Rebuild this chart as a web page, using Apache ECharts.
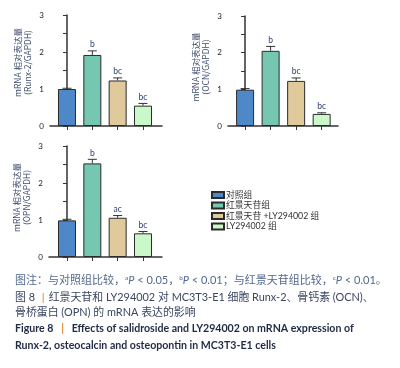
<!DOCTYPE html>
<html>
<head>
<meta charset="utf-8">
<script src="https://cdn.jsdelivr.net/npm/echarts@6/dist/echarts.min.js"></script>
<style>
  html, body { margin: 0; padding: 0; background: #fff; }
  #chart { width: 400px; height: 368px; }
</style>
</head>
<body>
<div id="chart"></div>
<script>
  // groups (legend order)
  var groups = ['对照组', '红景天苷组', '红景天苷 +LY294002 组', 'LY294002 组'];
  var groupColors = ['#4f88c8', '#76c7b2', '#e0c99b', '#cbf8cb'];
  var yTicks = [0, 1, 2, 3];

  // Runx-2
  var runxMean = [1.00, 1.92, 1.23, 0.55];
  var runxErr = [0.02, 0.11, 0.07, 0.06];
  var runxSig = ['', 'b', 'bc', 'bc'];
  // OCN
  var ocnMean = [0.99, 2.05, 1.23, 0.33];
  var ocnErr = [0.03, 0.12, 0.08, 0.03];
  var ocnSig = ['', 'b', 'bc', 'bc'];
  // OPN
  var opnMean = [0.99, 2.53, 1.06, 0.64];
  var opnErr = [0.03, 0.11, 0.06, 0.05];
  var opnSig = ['', 'b', 'ac', 'bc'];

  var panels = [
    { mean: runxMean, err: runxErr, sig: runxSig, name: 'mRNA 相对表达量\n(Runx-2/GAPDH)', shift: 16 },
    { mean: ocnMean, err: ocnErr, sig: ocnSig, name: 'mRNA 相对表达量\n(OCN/GAPDH)', shift: 8 },
    { mean: opnMean, err: opnErr, sig: opnSig, name: 'mRNA 相对表达量\n(OPN/GAPDH)', shift: 8 }
  ];

  var latin = 'Lato, "Noto Sans CJK SC", sans-serif';
  var cjk = '"Noto Sans CJK SC", sans-serif';
  var axisColor = '#333';

  var grids = [
    { left: 50, top: 15, width: 112, height: 111 },
    { left: 228, top: 16, width: 110, height: 110 },
    { left: 49, top: 146, width: 113, height: 111 }
  ];
  var xRange = [
    { min: -0.67, max: 3.75 },
    { min: -0.67, max: 3.64 },
    { min: -0.71, max: 3.75 }
  ];

  var xAxes = [], yAxes = [], series = [];
  panels.forEach(function (p, c) {
    xAxes.push({
      gridIndex: c,
      type: 'value',
      min: xRange[c].min,
      max: xRange[c].max,
      axisLine: { show: true, lineStyle: { color: axisColor, width: 1.5 } },
      axisTick: { show: true, customValues: [0, 1, 2, 3], length: 4, lineStyle: { color: axisColor } },
      axisLabel: { show: false },
      splitLine: { show: false }
    });
    yAxes.push({
      gridIndex: c,
      type: 'value',
      min: 0,
      max: 3,
      interval: 1,
      name: p.name,
      nameLocation: 'middle',
      nameRotate: 90,
      nameGap: 17,
      nameTextStyle: { fontSize: 8.5, color: '#3d4d6e', fontFamily: cjk, lineHeight: 10, padding: [0, 0, 0, p.shift] },
      axisLine: { show: true, lineStyle: { color: axisColor, width: 1.5 } },
      axisTick: { show: true, length: 4, lineStyle: { color: axisColor } },
      minorTick: { show: true, splitNumber: 2, length: 4, lineStyle: { color: axisColor } },
      axisLabel: { fontSize: 8, color: '#222', fontFamily: latin, margin: 6 },
      splitLine: { show: false },
      minorSplitLine: { show: false }
    });
    groups.forEach(function (g, i) {
      series.push({
        type: 'bar',
        name: g,
        xAxisIndex: c,
        yAxisIndex: c,
        stack: 'panel' + c,
        barWidth: 18,
        data: [[i, p.mean[i]]],
        itemStyle: { color: groupColors[i], borderColor: '#2b2b2b', borderWidth: 1 }
      });
    });
    series.push({
      type: 'custom',
      xAxisIndex: c,
      yAxisIndex: c,
      z: 5,
      data: p.mean.map(function (m, i) { return [i, m, p.err[i]]; }),
      renderItem: function (params, api) {
        var i = params.dataIndex;
        var base = api.coord([api.value(0), api.value(1)]);
        var top = api.coord([api.value(0), api.value(1) + api.value(2)]);
        return {
          type: 'group',
          children: [
            { type: 'line', shape: { x1: base[0], y1: base[1], x2: top[0], y2: top[1] }, style: { stroke: '#333', lineWidth: 1 } },
            { type: 'line', shape: { x1: top[0] - 4.5, y1: top[1], x2: top[0] + 4.5, y2: top[1] }, style: { stroke: '#333', lineWidth: 1 } },
            { type: 'text', x: top[0], y: top[1] - 2, style: { text: p.sig[i], fontSize: 8.5, fontFamily: latin, fill: '#2c3f73', align: 'center', verticalAlign: 'bottom' } }
          ]
        };
      }
    });
  });

  var noteColor = '#51688e';
  var capColor = '#3a4560';
  var option = {
    animation: false,
    grid: grids,
    xAxis: xAxes,
    yAxis: yAxes,
    legend: {
      data: groups,
      orient: 'vertical',
      left: 206,
      top: 185,
      icon: 'rect',
      itemWidth: 12,
      itemHeight: 6,
      itemGap: 0.5,
      textStyle: { fontSize: 8.8, color: '#333', fontFamily: latin, lineHeight: 10, padding: [0, 0, 0, -3] }
    },
    series: series,
    graphic: [
      {
        type: 'text', left: 15, top: 275,
        style: {
          text: '图注：与对照组比较，{s|a}{i|P} < 0.05，{s|b}{i|P} < 0.01；与红景天苷组比较，{s|c}{i|P} < 0.01。',
          fontSize: 11, fontFamily: latin, fill: noteColor,
          rich: {
            s: { fontSize: 6.5, fontFamily: latin, fill: noteColor, verticalAlign: 'top', padding: [0, 0, 5, 0] },
            i: { fontSize: 11, fontFamily: latin, fontStyle: 'italic', fill: noteColor }
          }
        }
      },
      {
        type: 'text', left: 15, top: 292,
        style: {
          text: '图 8 {o|丨}红景天苷和 LY294002 对 MC3T3-E1 细胞 Runx-2、骨钙素 (OCN)、',
          fontSize: 10.9, fontFamily: latin, fill: capColor,
          rich: { o: { fontSize: 10.9, fill: '#e08a2c', fontFamily: cjk } }
        }
      },
      {
        type: 'text', left: 15, top: 307,
        style: { text: '骨桥蛋白 (OPN) 的 mRNA 表达的影响', fontSize: 10.9, fontFamily: latin, fill: capColor }
      },
      {
        type: 'text', left: 15, top: 323,
        style: {
          text: 'Figure 8   {o||}   Effects of salidroside and LY294002 on mRNA expression of',
          fontSize: 10.6, fontWeight: 'bold', fontFamily: latin, fill: '#1f2a44',
          rich: { o: { fontSize: 10.6, fontWeight: 'bold', fill: '#e08a2c', fontFamily: latin } }
        }
      },
      {
        type: 'text', left: 15, top: 340,
        style: {
          text: 'Runx-2, osteocalcin and osteopontin in MC3T3-E1 cells',
          fontSize: 10.6, fontWeight: 'bold', fontFamily: latin, fill: '#1f2a44'
        }
      }
    ]
  };

  var chart = echarts.init(document.getElementById('chart'));
  chart.setOption(option);
</script>
</body>
</html>
